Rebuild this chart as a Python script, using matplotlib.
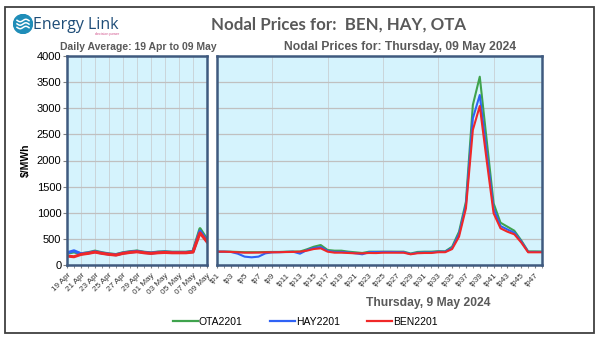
import matplotlib
matplotlib.use("Agg")
import matplotlib.pyplot as plt
import numpy as np
from matplotlib.patches import Rectangle, Circle

# daily averages, 19 Apr to 09 May
days = ['19 Apr', '20 Apr', '21 Apr', '22 Apr', '23 Apr', '24 Apr', '25 Apr',
        '26 Apr', '27 Apr', '28 Apr', '29 Apr', '30 Apr', '01 May', '02 May',
        '03 May', '04 May', '05 May', '06 May', '07 May', '08 May', '09 May']
ota_daily = [225, 250, 215, 235, 266, 235, 213, 200, 235, 255, 268, 245, 232, 248,
             255, 245, 245, 245, 262, 696, 487]
hay_daily = [234, 272, 215, 230, 255, 228, 208, 196, 228, 248, 262, 240, 228, 242,
             248, 240, 240, 240, 255, 652, 462]
ben_daily = [171, 158, 203, 222, 247, 222, 203, 190, 222, 240, 253, 234, 222, 234,
             240, 234, 234, 234, 247, 614, 443]

# trading periods, Thursday 09 May 2024
periods = ['tp%d' % i for i in range(1, 49)]
ota_tp = [255, 255, 255, 250, 245, 245, 245, 248, 250, 250, 255, 258, 258, 300, 350, 382,
          287, 274, 274, 255, 243, 230, 255, 255, 255, 255, 255, 255, 220, 250, 255, 255,
          265, 262, 350, 637, 1212, 3062, 3604, 2390, 1180, 810, 733, 656, 470, 260, 260, 258]
hay_tp = [255, 255, 250, 217, 160, 147, 160, 223, 243, 245, 250, 255, 217, 285, 325, 344,
          270, 250, 250, 240, 225, 205, 245, 248, 250, 250, 248, 245, 210, 235, 240, 240,
          255, 255, 325, 590, 1150, 2807, 3254, 2150, 1080, 746, 680, 618, 450, 250, 250, 250]
ben_tp = [255, 255, 250, 243, 236, 236, 238, 243, 243, 245, 248, 250, 255, 274, 306, 319,
          255, 236, 236, 230, 223, 223, 230, 228, 235, 235, 235, 235, 205, 225, 230, 230,
          245, 245, 305, 542, 1085, 2584, 3043, 2000, 990, 702, 637, 587, 430, 243, 243, 243]

names = ['OTA2201', 'HAY2201', 'BEN2201']
colors = ['#3FA34D', '#2F62F5', '#F02828']

W, H = 600, 340
fig = plt.figure(figsize=(6, 3.4), dpi=100)
plt.rcParams['font.family'] = ['Liberation Sans', 'DejaVu Sans']

def fx(px):
    return px / W

def fy(py):
    return 1 - py / H

# outer frame
fig.patches.append(Rectangle((fx(5), fy(333)), fx(589), 326 / H, transform=fig.transFigure,
                             fill=False, edgecolor='#404040', lw=1.3))

face = '#D5F3FD'
spine_c = '#3F5A7F'
grid_c = '#C0C0C0'

ax1 = fig.add_axes([fx(67), fy(265), fx(140), 209 / H])
ax2 = fig.add_axes([fx(217), fy(265), fx(325), 209 / H])

xd = np.arange(len(days))
xt = np.arange(1, len(periods) + 1)

for ax in (ax1, ax2):
    ax.set_facecolor(face)
    for s in ax.spines.values():
        s.set_color(spine_c)
        s.set_linewidth(1.8)
    ax.set_ylim(0, 4000)
    ax.set_yticks(np.arange(0, 4001, 500))
    ax.grid(axis='y', color=grid_c, lw=0.9)
    ax.set_axisbelow(True)

# left: daily averages
for vals, c in zip([ota_daily, hay_daily, ben_daily], colors):
    ax1.plot(xd, vals, color=c, lw=2.2)
ax1.set_xlim(0, len(days) - 1)
ax1.set_xticks(xd[::2])
ax1.set_xticklabels(days[::2], rotation=45, ha='right', rotation_mode='anchor',
                    fontsize=5.9, color='#333333')
ax1.set_xticks(xd, minor=True)
ax1.grid(axis='x', color='#C8D0D4', lw=0.6)
ax1.tick_params(axis='x', which='both', length=2, color='#808080', pad=3)
ax1.tick_params(axis='y', length=3, color='#808080', labelsize=8, pad=1)
ax1.set_ylabel('$/MWh', fontsize=7.5, fontweight='bold', labelpad=4)

# right: trading periods
for vals, c in zip([ota_tp, hay_tp, ben_tp], colors):
    ax2.plot(xt, vals, color=c, lw=1.5)
ax2.set_xlim(1, len(periods))
ax2.set_xticks(xt[::2])
ax2.set_xticklabels(periods[::2], rotation=45, ha='right', rotation_mode='anchor',
                    fontsize=5.9, color='#333333')
ax2.set_xticks(xt, minor=True)
for g in xt[::8]:
    ax2.axvline(g, color='#C8D0D4', lw=0.6, zorder=0.5)
ax2.tick_params(axis='x', which='both', length=2, color='#808080', pad=3)
ax2.tick_params(axis='y', length=0, labelleft=False)

# titles
fig.text(fx(339), fy(25), 'Nodal Prices for:  BEN, HAY, OTA', ha='center', va='center',
         fontsize=12.2, fontweight='bold', color='#595959', family='Lato')
fig.text(fx(138), fy(47), 'Daily Average: 19 Apr to 09 May', ha='center', va='center',
         fontsize=7.5, fontweight='bold', color='#595959')
fig.text(fx(400), fy(47), 'Nodal Prices for: Thursday, 09 May 2024', ha='center', va='center',
         fontsize=8.7, fontweight='bold', color='#595959')
fig.text(fx(428), fy(303), 'Thursday, 9 May 2024', ha='center', va='center',
         fontsize=8.7, fontweight='bold', color='#595959')

# logo
lax = fig.add_axes([fx(13), fy(34), fx(20), 20 / H])
lax.set_xlim(-1, 1)
lax.set_ylim(-1, 1)
lax.set_aspect('equal')
lax.axis('off')
lax.add_patch(Circle((0, 0), 0.95, color='#1F8DB8'))
t = np.linspace(-0.6, 0.6, 40)
for off in (-0.35, 0.0, 0.35):
    lax.plot(t, off + 0.12 * np.sin(t * 5.5), color='white', lw=1.1)
fig.text(fx(33), fy(25), 'Energy Link', ha='left', va='center', fontsize=11.5,
         color='#1E4D78', family='Open Sans')
fig.text(fx(107), fy(34), 'decision power', ha='center', va='center', fontsize=2.6,
         color='#D0508A')

# legend
handles = [plt.Line2D([], [], color=c, lw=1.6) for c in colors]
fig.legend(handles, names, loc='center', bbox_to_anchor=(fx(305), fy(322)), ncol=3,
           frameon=False, fontsize=7.5, handlelength=2.4, handletextpad=0.1,
           columnspacing=2.6)

fig.savefig('out.png', dpi=100)
